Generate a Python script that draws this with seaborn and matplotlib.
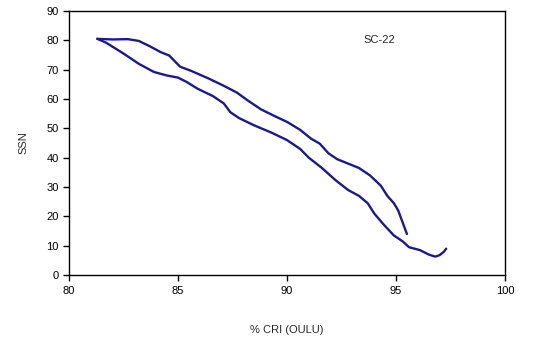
import pandas as pd
import matplotlib
matplotlib.use('Agg')
import matplotlib.pyplot as plt
import seaborn as sns

# upper branch, from the left tip to the end near 95.5
cri_upper = [81.3, 82.0, 82.7, 83.2, 83.7, 84.2, 84.6, 84.9, 85.1, 85.6, 86.4, 87.1,
             87.7, 88.2, 88.8, 89.4, 90.0, 90.6, 91.1, 91.5, 91.9, 92.3, 92.8, 93.3,
             93.8, 94.3, 94.6, 94.9, 95.1, 95.3, 95.5]
ssn_upper = [80.5, 80.3, 80.4, 79.8, 78.0, 76.0, 74.8, 72.5, 71.0, 69.6, 67.0, 64.5,
             62.2, 59.5, 56.5, 54.3, 52.2, 49.5, 46.5, 44.8, 41.5, 39.5, 38.0, 36.5,
             34.0, 30.5, 27.0, 24.5, 22.0, 18.0, 14.0]

# lower branch, from the left tip to the end near 97.3
cri_lower = [81.3, 81.7, 82.5, 83.2, 83.9, 84.5, 85.0, 85.4, 85.9, 86.6, 87.1, 87.4,
             87.8, 88.5, 89.3, 90.0, 90.6, 91.0, 91.6, 92.2, 92.8, 93.3, 93.7, 94.0,
             94.4, 94.9, 95.3, 95.6, 96.1, 96.5, 96.8, 97.0, 97.2, 97.3]
ssn_lower = [80.5, 79.2, 75.5, 72.0, 69.2, 68.0, 67.3, 65.8, 63.5, 61.0, 58.5, 55.5,
             53.5, 51.0, 48.5, 46.0, 43.0, 40.0, 36.5, 32.5, 29.0, 27.0, 24.5, 21.0,
             17.5, 13.5, 11.5, 9.5, 8.5, 7.0, 6.3, 6.8, 8.0, 9.0]

upper = pd.DataFrame({'cri': cri_upper, 'ssn': ssn_upper})
lower = pd.DataFrame({'cri': cri_lower, 'ssn': ssn_lower})

sns.set_style('ticks')
plt.rcParams['font.family'] = ['Liberation Sans', 'DejaVu Sans']

fig = plt.figure(figsize=(5.39, 3.43), dpi=100)
ax = fig.add_axes([0.128, 0.198, 0.809, 0.770])

line_color = '#1a1a8c'
sns.lineplot(x='cri', y='ssn', data=upper, sort=False, color=line_color, linewidth=1.7, ax=ax)
sns.lineplot(x='cri', y='ssn', data=lower, sort=False, color=line_color, linewidth=1.7, ax=ax)

ax.set_xlim(80, 100)
ax.set_ylim(0, 90)
ax.set_xticks(range(80, 101, 5))
ax.set_yticks(range(0, 91, 10))
ax.tick_params(direction='out', length=4, width=1, labelsize=8, colors='black')
for s in ax.spines.values():
    s.set_color('black')
    s.set_linewidth(1)

ax.text(93.5, 80, 'SC-22', fontsize=8, ha='left', va='center')
ax.set_xlabel('% CRI (OULU)', fontsize=8, labelpad=21)
ax.set_ylabel('SSN', fontsize=8, labelpad=13)

fig.savefig('out.png', dpi=100)
